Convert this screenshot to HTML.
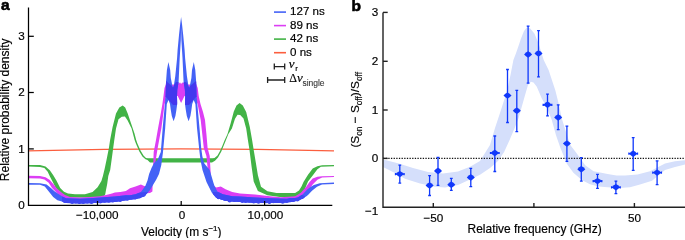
<!DOCTYPE html>
<html><head><meta charset="utf-8"><style>
html,body{margin:0;padding:0;background:#fff;width:685px;height:238px;overflow:hidden}
svg{display:block;will-change:transform}
</style></head><body>
<svg width="685" height="238" viewBox="0 0 685 238">
<path d="M28,150.9 Q181,146.8 334,150.9" fill="none" stroke="#fb5e3e" stroke-width="1.35"/>
<polygon points="28.0,164.9 40.0,165.1 45.5,166.4 49.8,170.2 53.1,175.1 56.4,180.6 60.2,188.0 64.0,191.8 68.0,193.4 75.0,194.3 85.0,194.2 92.6,192.0 97.6,187.3 101.4,181.0 102.9,176.0 104.6,169.0 106.5,160.0 108.9,148.0 110.1,140.0 112.6,126.9 116.0,113.4 119.3,107.6 122.7,105.6 125.2,107.6 127.7,113.4 131.1,123.5 134.5,133.6 136.2,140.0 137.4,143.4 140.5,150.6 143.5,155.6 146.0,158.0 148.0,158.3 152.0,158.3 181.1,158.3 210.2,158.3 212.5,158.3 214.5,157.9 217.5,155.6 220.0,151.0 222.3,146.0 224.6,140.2 227.5,134.0 230.6,123.5 233.8,111.5 236.5,105.6 239.6,103.0 242.8,105.5 246.2,112.0 249.8,126.9 252.1,140.0 253.7,150.0 255.8,162.6 257.9,175.3 261.0,186.8 267.4,191.3 276.6,193.0 286.4,193.0 295.1,193.1 299.0,190.4 301.5,186.5 303.5,182.0 308.0,174.8 312.7,168.6 317.4,166.2 322.1,165.3 334.0,165.1 334.0,166.2 320.9,166.8 317.4,169.2 312.7,175.6 308.0,181.5 304.5,190.0 302.0,194.0 298.0,196.5 290.0,197.5 280.0,197.0 267.4,195.3 257.9,191.0 253.7,181.6 251.6,166.8 249.5,150.0 247.9,140.0 246.2,128.6 243.5,118.5 240.2,115.0 237.5,114.8 235.0,118.8 231.9,128.6 228.4,134.0 225.8,140.6 221.3,151.5 218.0,157.6 215.0,160.8 212.0,162.6 181.1,162.6 150.0,162.5 147.5,160.0 145.5,159.2 142.4,156.6 139.2,151.2 135.9,143.6 134.6,140.0 131.6,128.6 127.5,120.2 124.9,116.5 121.8,116.8 118.5,119.3 116.0,128.6 114.3,140.0 113.2,148.0 112.0,157.0 110.2,170.0 108.3,176.0 107.2,184.0 106.0,190.0 105.2,194.5 103.0,197.5 90.0,197.8 66.0,197.5 62.0,195.5 58.0,191.0 55.3,187.0 52.0,180.6 49.8,176.2 47.7,171.8 44.4,168.0 40.0,166.9 28.0,166.6" fill="#42b346"/>
<polygon points="28.0,175.8 40.0,176.0 45.5,177.3 49.8,180.0 54.2,185.0 56.4,188.0 61.0,192.0 65.0,195.0 70.0,197.1 80.0,197.5 90.0,197.0 100.0,196.3 106.0,195.0 112.0,193.5 114.9,192.5 120.4,192.0 125.9,190.9 130.0,188.2 135.5,186.6 140.9,184.4 144.2,186.0 147.0,186.5 150.2,184.0 152.0,180.0 153.0,170.0 153.7,152.0 156.0,140.0 158.1,128.0 160.5,115.0 162.4,104.0 163.5,96.0 164.5,88.0 166.0,84.0 170.0,84.5 174.0,84.5 176.5,84.5 177.8,83.0 179.0,83.5 180.0,82.3 181.1,84.0 182.2,82.5 183.7,83.0 185.1,84.0 188.2,84.5 192.2,84.5 196.2,84.0 197.7,88.0 198.7,96.0 200.5,104.0 203.0,112.0 205.0,120.0 206.5,135.0 207.6,148.0 209.7,156.0 210.5,170.0 211.0,180.0 212.0,184.0 216.1,187.5 220.8,186.5 225.5,189.2 232.2,192.0 240.0,193.5 255.0,194.5 270.0,196.2 280.9,197.2 295.1,196.2 300.6,193.0 306.0,187.0 309.5,182.0 312.7,178.6 317.4,176.8 322.1,176.2 334.0,175.9 334.0,177.1 322.1,177.5 317.4,179.8 312.7,184.5 308.9,190.0 303.0,196.0 297.0,198.5 285.0,199.5 270.0,199.0 240.0,198.0 225.0,196.0 216.0,194.0 211.0,190.2 209.3,183.4 208.0,172.0 206.4,156.0 203.8,148.0 200.7,120.0 197.6,104.0 194.2,96.0 184.5,96.0 181.1,103.0 177.7,96.0 168.0,96.0 164.6,104.0 161.4,128.0 157.5,149.0 155.3,163.0 153.0,175.0 152.4,191.5 150.0,193.0 144.0,193.5 135.0,195.0 130.0,195.5 114.9,197.5 104.0,199.0 90.0,199.5 70.0,199.3 64.0,198.5 58.0,194.5 55.0,191.0 52.0,188.0 48.7,182.8 44.4,179.5 40.0,178.4 28.0,178.2" fill="#dc3ef4"/>
<polygon points="28.0,183.0 40.0,183.2 46.6,184.4 50.9,188.0 54.5,191.2 58.0,193.8 62.0,196.3 66.0,198.3 80.0,198.8 90.0,198.2 104.0,197.3 114.9,196.4 125.9,195.3 130.0,195.3 135.5,194.2 140.9,192.0 145.3,186.0 147.5,180.6 149.1,174.0 151.5,168.0 154.0,163.0 157.5,160.0 160.8,152.0 162.7,128.0 164.9,104.0 165.6,96.0 166.0,82.0 166.9,70.0 168.4,62.0 170.2,70.0 170.8,78.0 172.2,85.0 173.0,88.0 173.9,85.0 174.7,80.0 175.3,76.0 177.1,58.0 177.6,50.0 179.0,35.0 180.2,24.0 181.1,17.0 182.0,24.0 183.2,35.0 184.6,50.0 185.1,58.0 186.9,76.0 187.5,80.0 188.3,85.0 189.2,88.0 190.0,85.0 191.4,78.0 192.0,70.0 193.8,62.0 195.3,70.0 196.2,82.0 196.6,96.0 197.3,104.0 199.5,128.0 201.2,148.0 202.3,156.0 204.0,163.0 206.4,166.0 209.7,170.0 213.2,182.0 214.5,186.0 217.4,191.5 222.8,194.2 232.2,196.2 240.0,196.6 255.0,197.5 270.0,198.3 286.4,198.8 297.3,197.8 302.8,194.2 307.2,189.5 310.5,187.0 313.9,185.0 319.8,183.3 334.0,182.5 334.0,183.9 322.0,184.4 317.0,186.7 312.0,190.8 308.0,195.0 306.1,196.6 299.5,200.2 291.9,201.9 280.9,203.0 270.0,203.0 255.0,203.0 240.0,202.0 230.0,201.5 224.1,200.5 216.1,197.8 212.0,192.9 206.5,182.0 202.5,170.0 200.5,160.0 199.5,152.0 197.0,128.0 195.4,104.0 193.7,100.0 192.2,104.0 191.4,110.0 190.4,116.0 188.6,121.3 186.8,116.0 185.8,110.0 185.0,104.0 185.2,96.0 184.9,90.0 183.6,82.0 182.5,58.0 182.0,50.0 181.4,40.0 181.1,28.0 180.8,40.0 180.2,50.0 179.7,58.0 178.6,82.0 177.3,90.0 177.0,96.0 177.2,104.0 176.4,110.0 175.4,116.0 173.6,121.3 171.8,116.0 170.8,110.0 170.0,104.0 168.5,100.0 166.8,104.0 165.2,128.0 163.0,152.0 161.3,165.0 159.0,174.0 156.0,180.0 153.0,185.0 149.7,190.4 144.2,196.4 136.6,199.1 130.0,199.7 114.9,201.9 104.0,202.6 90.0,203.2 80.0,203.5 66.0,203.0 62.0,201.5 57.4,200.2 53.2,197.0 49.0,191.8 44.8,186.5 40.0,184.8 28.0,184.7" fill="#4462f6"/>
<clipPath id="dk"><path d="M160,86 L166,81 L173,87 L176,82 L186,82 L189,87 L196,81 L202,86 V97 L196,97 L189,105 L185,105 L181,96 L177,105 L173,105 L166,97 L160,97 Z"/></clipPath>
<polygon points="28.0,183.0 40.0,183.2 46.6,184.4 50.9,188.0 54.5,191.2 58.0,193.8 62.0,196.3 66.0,198.3 80.0,198.8 90.0,198.2 104.0,197.3 114.9,196.4 125.9,195.3 130.0,195.3 135.5,194.2 140.9,192.0 145.3,186.0 147.5,180.6 149.1,174.0 151.5,168.0 154.0,163.0 157.5,160.0 160.8,152.0 162.7,128.0 164.9,104.0 165.6,96.0 166.0,82.0 166.9,70.0 168.4,62.0 170.2,70.0 170.8,78.0 172.2,85.0 173.0,88.0 173.9,85.0 174.7,80.0 175.3,76.0 177.1,58.0 177.6,50.0 179.0,35.0 180.2,24.0 181.1,17.0 182.0,24.0 183.2,35.0 184.6,50.0 185.1,58.0 186.9,76.0 187.5,80.0 188.3,85.0 189.2,88.0 190.0,85.0 191.4,78.0 192.0,70.0 193.8,62.0 195.3,70.0 196.2,82.0 196.6,96.0 197.3,104.0 199.5,128.0 201.2,148.0 202.3,156.0 204.0,163.0 206.4,166.0 209.7,170.0 213.2,182.0 214.5,186.0 217.4,191.5 222.8,194.2 232.2,196.2 240.0,196.6 255.0,197.5 270.0,198.3 286.4,198.8 297.3,197.8 302.8,194.2 307.2,189.5 310.5,187.0 313.9,185.0 319.8,183.3 334.0,182.5 334.0,183.9 322.0,184.4 317.0,186.7 312.0,190.8 308.0,195.0 306.1,196.6 299.5,200.2 291.9,201.9 280.9,203.0 270.0,203.0 255.0,203.0 240.0,202.0 230.0,201.5 224.1,200.5 216.1,197.8 212.0,192.9 206.5,182.0 202.5,170.0 200.5,160.0 199.5,152.0 197.0,128.0 195.4,104.0 193.7,100.0 192.2,104.0 191.4,110.0 190.4,116.0 188.6,121.3 186.8,116.0 185.8,110.0 185.0,104.0 185.2,96.0 184.9,90.0 183.6,82.0 182.5,58.0 182.0,50.0 181.4,40.0 181.1,28.0 180.8,40.0 180.2,50.0 179.7,58.0 178.6,82.0 177.3,90.0 177.0,96.0 177.2,104.0 176.4,110.0 175.4,116.0 173.6,121.3 171.8,116.0 170.8,110.0 170.0,104.0 168.5,100.0 166.8,104.0 165.2,128.0 163.0,152.0 161.3,165.0 159.0,174.0 156.0,180.0 153.0,185.0 149.7,190.4 144.2,196.4 136.6,199.1 130.0,199.7 114.9,201.9 104.0,202.6 90.0,203.2 80.0,203.5 66.0,203.0 62.0,201.5 57.4,200.2 53.2,197.0 49.0,191.8 44.8,186.5 40.0,184.8 28.0,184.7" fill="#4338ee" clip-path="url(#dk)"/>
<clipPath id="bt"><path d="M62,196.5 L150,192 L150,206 L62,206 Z M213,192 L305,196 L305,206 L213,206 Z"/></clipPath>
<polygon points="28.0,183.0 40.0,183.2 46.6,184.4 50.9,188.0 54.5,191.2 58.0,193.8 62.0,196.3 66.0,198.3 80.0,198.8 90.0,198.2 104.0,197.3 114.9,196.4 125.9,195.3 130.0,195.3 135.5,194.2 140.9,192.0 145.3,186.0 147.5,180.6 149.1,174.0 151.5,168.0 154.0,163.0 157.5,160.0 160.8,152.0 162.7,128.0 164.9,104.0 165.6,96.0 166.0,82.0 166.9,70.0 168.4,62.0 170.2,70.0 170.8,78.0 172.2,85.0 173.0,88.0 173.9,85.0 174.7,80.0 175.3,76.0 177.1,58.0 177.6,50.0 179.0,35.0 180.2,24.0 181.1,17.0 182.0,24.0 183.2,35.0 184.6,50.0 185.1,58.0 186.9,76.0 187.5,80.0 188.3,85.0 189.2,88.0 190.0,85.0 191.4,78.0 192.0,70.0 193.8,62.0 195.3,70.0 196.2,82.0 196.6,96.0 197.3,104.0 199.5,128.0 201.2,148.0 202.3,156.0 204.0,163.0 206.4,166.0 209.7,170.0 213.2,182.0 214.5,186.0 217.4,191.5 222.8,194.2 232.2,196.2 240.0,196.6 255.0,197.5 270.0,198.3 286.4,198.8 297.3,197.8 302.8,194.2 307.2,189.5 310.5,187.0 313.9,185.0 319.8,183.3 334.0,182.5 334.0,183.9 322.0,184.4 317.0,186.7 312.0,190.8 308.0,195.0 306.1,196.6 299.5,200.2 291.9,201.9 280.9,203.0 270.0,203.0 255.0,203.0 240.0,202.0 230.0,201.5 224.1,200.5 216.1,197.8 212.0,192.9 206.5,182.0 202.5,170.0 200.5,160.0 199.5,152.0 197.0,128.0 195.4,104.0 193.7,100.0 192.2,104.0 191.4,110.0 190.4,116.0 188.6,121.3 186.8,116.0 185.8,110.0 185.0,104.0 185.2,96.0 184.9,90.0 183.6,82.0 182.5,58.0 182.0,50.0 181.4,40.0 181.1,28.0 180.8,40.0 180.2,50.0 179.7,58.0 178.6,82.0 177.3,90.0 177.0,96.0 177.2,104.0 176.4,110.0 175.4,116.0 173.6,121.3 171.8,116.0 170.8,110.0 170.0,104.0 168.5,100.0 166.8,104.0 165.2,128.0 163.0,152.0 161.3,165.0 159.0,174.0 156.0,180.0 153.0,185.0 149.7,190.4 144.2,196.4 136.6,199.1 130.0,199.7 114.9,201.9 104.0,202.6 90.0,203.2 80.0,203.5 66.0,203.0 62.0,201.5 57.4,200.2 53.2,197.0 49.0,191.8 44.8,186.5 40.0,184.8 28.0,184.7" fill="#3f48f3" clip-path="url(#bt)"/>
<g fill="#3f48f3"><circle cx="64.7" cy="201.1" r="2.0"/><circle cx="68.5" cy="201.0" r="2.0"/><circle cx="72.1" cy="202.1" r="2.0"/><circle cx="75.7" cy="201.4" r="2.0"/><circle cx="79.4" cy="202.0" r="2.0"/><circle cx="83.2" cy="201.9" r="2.0"/><circle cx="87.3" cy="201.4" r="2.0"/><circle cx="91.5" cy="202.0" r="2.0"/><circle cx="95.9" cy="200.8" r="2.0"/><circle cx="100.3" cy="201.6" r="2.0"/><circle cx="104.6" cy="200.7" r="2.0"/><circle cx="108.8" cy="200.8" r="2.0"/><circle cx="112.8" cy="200.6" r="2.0"/><circle cx="116.5" cy="199.8" r="2.0"/><circle cx="120.2" cy="200.0" r="2.0"/><circle cx="123.8" cy="198.5" r="2.0"/><circle cx="127.4" cy="198.8" r="2.0"/><circle cx="131.2" cy="197.6" r="2.0"/><circle cx="135.2" cy="197.6" r="2.0"/><circle cx="139.4" cy="196.5" r="2.0"/><circle cx="143.8" cy="194.5" r="2.0"/><circle cx="218.5" cy="197.3" r="2.0"/><circle cx="221.7" cy="197.8" r="2.0"/><circle cx="225.2" cy="199.0" r="2.0"/><circle cx="229.6" cy="200.4" r="2.0"/><circle cx="234.4" cy="200.0" r="2.0"/><circle cx="238.8" cy="199.9" r="2.0"/><circle cx="242.3" cy="200.9" r="2.0"/><circle cx="245.5" cy="201.0" r="2.0"/><circle cx="249.2" cy="200.6" r="2.0"/><circle cx="253.7" cy="201.4" r="2.0"/><circle cx="258.5" cy="201.8" r="2.0"/><circle cx="262.8" cy="201.0" r="2.0"/><circle cx="266.2" cy="201.2" r="2.0"/><circle cx="269.4" cy="201.9" r="2.0"/><circle cx="273.3" cy="201.3" r="2.0"/><circle cx="277.9" cy="201.0" r="2.0"/><circle cx="282.7" cy="201.7" r="2.0"/><circle cx="286.7" cy="201.1" r="2.0"/><circle cx="290.0" cy="200.0" r="2.0"/><circle cx="293.3" cy="199.9" r="2.0"/><circle cx="297.3" cy="199.4" r="2.0"/><circle cx="302.1" cy="196.9" r="2.0"/></g>
<g stroke="#000" stroke-width="1.25" fill="none">
<path d="M28.5,7.5 V205.3 H332.3"/>
<path d="M28.5,36.3 H33.8"/>
<path d="M28.5,92.5 H33.8"/>
<path d="M28.5,148.9 H33.8"/>
<path d="M97.5,205.3 V201"/>
<path d="M181.2,205.3 V201"/>
<path d="M264.6,205.3 V201"/>
</g>
<text x="1.1" y="10" font-family="Liberation Sans, sans-serif" font-size="15.5" font-weight="bold" fill="#000" stroke="#000" stroke-width="0.6">a</text>
<g font-family="Liberation Sans, sans-serif" font-size="11.7" fill="#000" stroke="#000" stroke-width="0.18" text-anchor="end">
<text x="24.8" y="209.2">0</text>
<text x="24.8" y="153.1">1</text>
<text x="24.8" y="96.4">2</text>
<text x="24.8" y="40.0">3</text>
</g>
<g font-family="Liberation Sans, sans-serif" font-size="11.7" fill="#000" stroke="#000" stroke-width="0.18" text-anchor="middle">
<text x="97.3" y="219.2">−10,000</text>
<text x="181.9" y="219.2">0</text>
<text x="265.3" y="219.2">10,000</text>
</g>
<text x="141" y="235.7" font-family="Liberation Sans, sans-serif" font-size="11.9" fill="#000" stroke="#000" stroke-width="0.18">Velocity (m s<tspan dy="-4.5" font-size="8">−1</tspan><tspan dy="4.5">)</tspan></text>
<text transform="translate(8.9,181.2) rotate(-90)" font-family="Liberation Sans, sans-serif" font-size="12" fill="#000" stroke="#000" stroke-width="0.18">Relative probability density</text>
<g stroke-width="1.6">
<path d="M274,12.1 H286" stroke="#4462f6"/>
<path d="M274,25.6 H286" stroke="#dc3ef4"/>
<path d="M274,39.1 H286" stroke="#42b346"/>
<path d="M274,52.7 H286" stroke="#fb5e3e"/>
</g>
<g font-family="Liberation Sans, sans-serif" font-size="11.6" fill="#000" stroke="#000" stroke-width="0.18">
<text x="290" y="15.4">127 ns</text>
<text x="290" y="28.9">89 ns</text>
<text x="290" y="42.4">42 ns</text>
<text x="290" y="56.0">0 ns</text>
</g>
<g stroke="#222" stroke-width="1.3" fill="none">
<path d="M274.3,66.6 H284.7 M274.3,63.6 V69.6 M284.7,63.6 V69.6"/>
<path d="M267.6,80 H284.7 M267.6,77 V83 M284.7,77 V83"/>
</g>
<text x="288.8" y="67.6" font-family="Liberation Serif, serif" font-style="italic" font-size="13" fill="#000" stroke="#000" stroke-width="0.18">ν</text>
<text x="295.3" y="71.3" font-family="Liberation Sans, sans-serif" font-size="8" fill="#000" stroke="#000" stroke-width="0.18">r</text>
<text x="289.2" y="82" font-family="Liberation Serif, serif" font-size="12" fill="#000" stroke="#000" stroke-width="0.18">Δ<tspan font-style="italic" font-size="13">ν</tspan></text>
<text x="302.4" y="86" font-family="Liberation Sans, sans-serif" font-size="8.5" fill="#333" stroke="#333" stroke-width="0.1">single</text>
<polygon points="383.0,159.4 398.0,163.3 413.0,167.9 428.0,172.0 443.0,173.6 458.0,171.4 470.0,166.8 480.0,161.0 485.0,153.0 490.0,145.0 495.0,128.0 500.0,113.0 504.2,100.0 507.5,89.0 510.5,75.0 513.4,60.0 515.9,53.6 518.5,46.0 521.0,38.5 524.0,31.0 526.8,27.6 530.0,28.2 534.4,33.4 538.6,43.5 543.7,60.0 548.6,70.0 555.3,90.2 559.0,105.0 561.8,118.4 566.0,131.9 570.3,145.0 576.8,153.4 585.2,165.2 593.6,171.2 598.8,172.3 607.6,174.0 616.5,175.4 625.0,175.5 637.5,174.5 650.0,171.3 665.0,163.5 675.0,161.2 685.0,160.2 685.0,164.6 675.0,167.0 665.0,170.0 652.0,180.7 640.0,184.5 630.0,187.2 619.4,187.9 607.6,187.2 598.8,186.5 590.0,184.3 581.8,180.0 573.4,172.8 566.7,163.5 560.0,146.7 556.0,135.3 551.8,120.1 546.5,107.0 541.8,98.6 536.8,86.8 533.5,82.5 530.9,81.8 528.0,85.0 525.0,95.2 521.7,107.0 518.6,118.0 514.7,128.0 509.6,140.0 504.1,152.0 498.0,161.0 490.0,167.9 480.0,174.7 470.0,179.4 458.0,185.1 445.0,187.4 435.0,186.7 420.0,183.5 405.0,178.8 395.0,173.0 383.0,167.0" fill="#d5dffb"/>
<path d="M383,158.4 H685" stroke="#111" stroke-width="1.3" stroke-dasharray="1.3,1.35" fill="none"/>
<g stroke="#1038fb" stroke-width="1.3" fill="none">
<path d="M399.8,165.1 V183.1 M398.40000000000003,165.1 H401.2 M398.40000000000003,183.1 H401.2 M395.5,174.1 H404.1 M395.5,173.0 V175.2 M404.1,173.0 V175.2"/>
<path d="M429.6,175.6 V195.5 M428.20000000000005,175.6 H431.0 M428.20000000000005,195.5 H431.0"/>
<path d="M438,157.4 V185.3 M436.6,157.4 H439.4 M436.6,185.3 H439.4"/>
<path d="M451.3,178.4 V190.3 M449.90000000000003,178.4 H452.7 M449.90000000000003,190.3 H452.7"/>
<path d="M470.8,168.4 V186.7 M469.40000000000003,168.4 H472.2 M469.40000000000003,186.7 H472.2"/>
<path d="M494.8,136 V171.5 M493.40000000000003,136 H496.2 M493.40000000000003,171.5 H496.2 M490.5,153 H499.1 M490.5,151.9 V154.1 M499.1,151.9 V154.1"/>
<path d="M507.5,69.5 V122.5 M506.1,69.5 H508.9 M506.1,122.5 H508.9"/>
<path d="M516.8,90.3 V131.6 M515.4,90.3 H518.1999999999999 M515.4,131.6 H518.1999999999999"/>
<path d="M528.1,26.1 V83.2 M526.7,26.1 H529.5 M526.7,83.2 H529.5"/>
<path d="M538.5,30.7 V76.8 M537.1,30.7 H539.9 M537.1,76.8 H539.9"/>
<path d="M547.5,94.2 V115.9 M546.1,94.2 H548.9 M546.1,115.9 H548.9 M543.2,104.8 H551.8 M543.2,103.7 V105.89999999999999 M551.8,103.7 V105.89999999999999"/>
<path d="M558.2,104.8 V129.7 M556.8000000000001,104.8 H559.6 M556.8000000000001,129.7 H559.6"/>
<path d="M566.9,126.2 V161.3 M565.5,126.2 H568.3 M565.5,161.3 H568.3"/>
<path d="M581.3,157.7 V181.2 M579.9,157.7 H582.6999999999999 M579.9,181.2 H582.6999999999999"/>
<path d="M597.5,174.3 V188.3 M596.1,174.3 H598.9 M596.1,188.3 H598.9 M593.2,181.1 H601.8 M593.2,180.0 V182.2 M601.8,180.0 V182.2"/>
<path d="M615.9,181.1 V193.6 M614.5,181.1 H617.3 M614.5,193.6 H617.3 M611.6,187.3 H620.1999999999999 M611.6,186.20000000000002 V188.4 M620.1999999999999,186.20000000000002 V188.4"/>
<path d="M633.2,137.6 V170.4 M631.8000000000001,137.6 H634.6 M631.8000000000001,170.4 H634.6 M628.9000000000001,153.7 H637.5 M628.9000000000001,152.6 V154.79999999999998 M637.5,152.6 V154.79999999999998"/>
<path d="M657.1,160.9 V184.7 M655.7,160.9 H658.5 M655.7,184.7 H658.5 M652.8000000000001,172.6 H661.4 M652.8000000000001,171.5 V173.7 M661.4,171.5 V173.7"/>
</g>
<g fill="#1038fb">
<path d="M395.8,174.1 Q397.5,172.0 399.8,170.9 Q402.1,172.0 403.8,174.1 Q402.1,176.2 399.8,177.29999999999998 Q397.5,176.2 395.8,174.1 Z"/>
<path d="M425.6,185.5 Q427.3,183.4 429.6,182.3 Q431.90000000000003,183.4 433.6,185.5 Q431.90000000000003,187.6 429.6,188.7 Q427.3,187.6 425.6,185.5 Z"/>
<path d="M434.0,171 Q435.7,168.9 438,167.8 Q440.3,168.9 442.0,171 Q440.3,173.1 438,174.2 Q435.7,173.1 434.0,171 Z"/>
<path d="M447.3,184.7 Q449.0,182.6 451.3,181.5 Q453.6,182.6 455.3,184.7 Q453.6,186.79999999999998 451.3,187.89999999999998 Q449.0,186.79999999999998 447.3,184.7 Z"/>
<path d="M466.8,177.5 Q468.5,175.4 470.8,174.3 Q473.1,175.4 474.8,177.5 Q473.1,179.6 470.8,180.7 Q468.5,179.6 466.8,177.5 Z"/>
<path d="M490.8,153 Q492.5,150.9 494.8,149.8 Q497.1,150.9 498.8,153 Q497.1,155.1 494.8,156.2 Q492.5,155.1 490.8,153 Z"/>
<path d="M503.5,95.6 Q505.2,93.5 507.5,92.39999999999999 Q509.8,93.5 511.5,95.6 Q509.8,97.69999999999999 507.5,98.8 Q505.2,97.69999999999999 503.5,95.6 Z"/>
<path d="M512.8,110.7 Q514.5,108.60000000000001 516.8,107.5 Q519.0999999999999,108.60000000000001 520.8,110.7 Q519.0999999999999,112.8 516.8,113.9 Q514.5,112.8 512.8,110.7 Z"/>
<path d="M524.1,54.5 Q525.8000000000001,52.4 528.1,51.3 Q530.4,52.4 532.1,54.5 Q530.4,56.6 528.1,57.7 Q525.8000000000001,56.6 524.1,54.5 Z"/>
<path d="M534.5,53.5 Q536.2,51.4 538.5,50.3 Q540.8,51.4 542.5,53.5 Q540.8,55.6 538.5,56.7 Q536.2,55.6 534.5,53.5 Z"/>
<path d="M543.5,104.8 Q545.2,102.7 547.5,101.6 Q549.8,102.7 551.5,104.8 Q549.8,106.89999999999999 547.5,108.0 Q545.2,106.89999999999999 543.5,104.8 Z"/>
<path d="M554.2,117.5 Q555.9000000000001,115.4 558.2,114.3 Q560.5,115.4 562.2,117.5 Q560.5,119.6 558.2,120.7 Q555.9000000000001,119.6 554.2,117.5 Z"/>
<path d="M562.9,143.6 Q564.6,141.5 566.9,140.4 Q569.1999999999999,141.5 570.9,143.6 Q569.1999999999999,145.7 566.9,146.79999999999998 Q564.6,145.7 562.9,143.6 Z"/>
<path d="M577.3,169.2 Q579.0,167.1 581.3,166.0 Q583.5999999999999,167.1 585.3,169.2 Q583.5999999999999,171.29999999999998 581.3,172.39999999999998 Q579.0,171.29999999999998 577.3,169.2 Z"/>
<path d="M593.5,181.1 Q595.2,179.0 597.5,177.9 Q599.8,179.0 601.5,181.1 Q599.8,183.2 597.5,184.29999999999998 Q595.2,183.2 593.5,181.1 Z"/>
<path d="M611.9,187.3 Q613.6,185.20000000000002 615.9,184.10000000000002 Q618.1999999999999,185.20000000000002 619.9,187.3 Q618.1999999999999,189.4 615.9,190.5 Q613.6,189.4 611.9,187.3 Z"/>
<path d="M629.2,153.7 Q630.9000000000001,151.6 633.2,150.5 Q635.5,151.6 637.2,153.7 Q635.5,155.79999999999998 633.2,156.89999999999998 Q630.9000000000001,155.79999999999998 629.2,153.7 Z"/>
<path d="M653.1,172.6 Q654.8000000000001,170.5 657.1,169.4 Q659.4,170.5 661.1,172.6 Q659.4,174.7 657.1,175.79999999999998 Q654.8000000000001,174.7 653.1,172.6 Z"/>
</g>
<g stroke="#222" stroke-width="1.4" fill="none">
<path d="M383,12.4 V207.2 H685"/>
<path d="M383,12.4 H387.7"/>
<path d="M383,61.3 H387.7"/>
<path d="M383,110 H387.7"/>
<path d="M383,158.4 H387.7"/>
<path d="M433.3,207.2 V203"/>
<path d="M533.9,207.2 V203"/>
<path d="M634.4,207.2 V203"/>
</g>
<text x="351.4" y="11.3" font-family="Liberation Sans, sans-serif" font-size="15.5" font-weight="bold" fill="#000" stroke="#000" stroke-width="0.6">b</text>
<g font-family="Liberation Sans, sans-serif" font-size="11.7" fill="#000" stroke="#000" stroke-width="0.18" text-anchor="end">
<text x="378.3" y="16.3">3</text>
<text x="378.3" y="65.1">2</text>
<text x="378.3" y="114">1</text>
<text x="378.3" y="161.9">0</text>
<text x="378.3" y="214.8">−1</text>
</g>
<g font-family="Liberation Sans, sans-serif" font-size="11.7" fill="#000" stroke="#000" stroke-width="0.18" text-anchor="middle">
<text x="433.3" y="222.4">−50</text>
<text x="634.6" y="222.4">50</text>
</g>
<text x="467.6" y="233.1" font-family="Liberation Sans, sans-serif" font-size="11.95" fill="#000" stroke="#000" stroke-width="0.18">Relative frequency (GHz)</text>
<text transform="translate(359.2,147.6) rotate(-90)" font-family="Liberation Sans, sans-serif" font-size="11.8" fill="#000" stroke="#000" stroke-width="0.18">(S<tspan font-size="8.3" dy="2.9">on</tspan><tspan dy="-2.9"> − S</tspan><tspan font-size="8.3" dy="2.9">off</tspan><tspan dy="-2.9">)/S</tspan><tspan font-size="8.3" dy="2.9">off</tspan></text>
</svg>
</body></html>
